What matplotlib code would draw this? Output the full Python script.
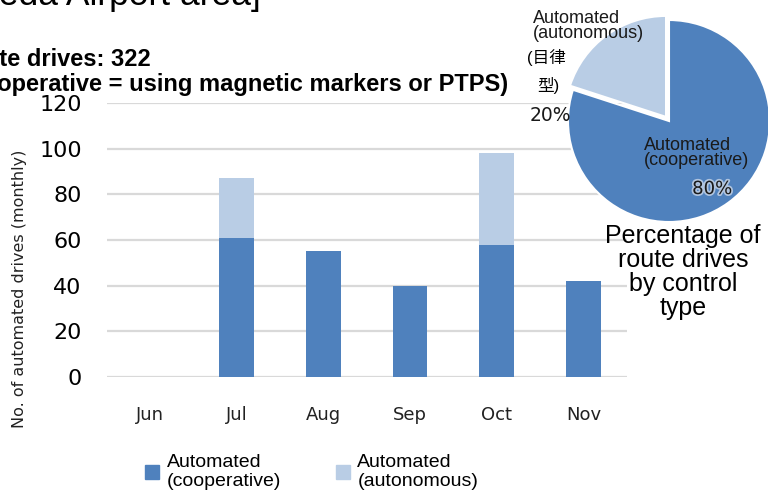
import matplotlib.pyplot as plt
import matplotlib.patheffects as pe
import numpy as np

months = ['Jun', 'Jul', 'Aug', 'Sep', 'Oct', 'Nov']
cooperative = [0, 61, 55, 40, 58, 42]
autonomous = [0, 26, 0, 0, 40, 0]
pie_labels = ['Automated\n(cooperative)', 'Automated\n(autonomous)']
pie_share = [80, 20]

c_coop = '#4f81bd'
c_auto = '#b9cde5'
sans = ['Liberation Sans', 'Noto Sans CJK JP', 'DejaVu Sans']
verd = ['DejaVu Sans']

fig = plt.figure(figsize=(7.68, 4.94), dpi=100)

# bar chart
ax = fig.add_axes([0.139, 0.237, 0.677, 0.5545])
x = np.arange(len(months))
ax.bar(x, cooperative, width=0.4, color=c_coop, zorder=3)
ax.bar(x, autonomous, width=0.4, bottom=cooperative, color=c_auto, zorder=3)
ax.set_xlim(-0.5, 5.5)
ax.set_ylim(0, 120)
ax.set_yticks(range(0, 121, 20))
ax.set_xticks(x)
ax.set_xticklabels(months, fontsize=13, family=verd, color='#222222')
for lab in ax.get_yticklabels():
    lab.set_family(verd)
ax.tick_params(axis='x', length=0, pad=21)
ax.tick_params(axis='y', length=0, pad=18, labelsize=16)
for s in ax.spines.values():
    s.set_visible(False)
ax.grid(axis='y', color='#d9d9d9', linewidth=1.6, zorder=0)
ax.set_ylabel('No. of automated drives (monthly)', fontsize=11.5, family=verd, color='#222222')
ax.yaxis.set_label_coords(-0.153, 0.32)

# titles (cropped at left edge like the source)
fig.text(0.339, 1 - 5 / 494, '[Haneda Airport area]', ha='right', va='baseline',
         fontsize=25.5, family=sans)
fig.text(0.196, 1 - 60 / 494, 'Total route drives: 322', ha='right', va='center',
         fontsize=17, fontweight='bold', family=sans)
fig.text(0.662, 1 - 84 / 494, '(Cooperative = using magnetic markers or PTPS)', ha='right',
         va='center', fontsize=17, fontweight='bold', family=sans)

# pie chart
pax = fig.add_axes([568 / 768, 1 - 222 / 494, 202 / 768, 202 / 494])
pax.pie(pie_share, colors=[c_coop, c_auto], startangle=90, counterclock=False,
        explode=[0, 0.05], wedgeprops=dict(edgecolor='white', linewidth=1.5))
pax.set_xlim(-1.0, 1.0)
pax.set_ylim(-1.0, 1.0)
pax.set_aspect('equal')
pax.axis('off')

glow = [pe.withStroke(linewidth=2.5, foreground='#c9d6e8', alpha=0.8)]
fig.text(644 / 768, 1 - 153 / 494, pie_labels[0], ha='left', va='center', fontsize=13,
         family=sans, color='#1a1a1a', linespacing=0.9)
fig.text(712 / 768, 1 - 189 / 494, f'{pie_share[0]}%', ha='center', va='center', fontsize=13,
         family=verd, color='#1a1a1a', path_effects=glow)
fig.text(533 / 768, 1 - 26 / 494, pie_labels[1], ha='left', va='center', fontsize=13,
         family=sans, color='#1a1a1a', linespacing=0.85)
fig.text(527 / 768, 1 - 57 / 494, '(目律', ha='left', va='center', fontsize=12, family=sans)
fig.text(537 / 768, 1 - 85 / 494, '型)', ha='left', va='center', fontsize=12, family=sans)
fig.text(550 / 768, 1 - 115 / 494, f'{pie_share[1]}%', ha='center', va='center', fontsize=13.5,
         family=verd, color='#1a1a1a')

fig.text(683 / 768, 1 - 272 / 494, 'Percentage of\nroute drives\nby control\ntype',
         ha='center', va='center', fontsize=18, family=sans, linespacing=1.0)

# legend
handles = [plt.Rectangle((0, 0), 1, 1, color=c_coop), plt.Rectangle((0, 0), 1, 1, color=c_auto)]
fig.legend(handles, pie_labels, loc='center left', bbox_to_anchor=(145 / 768, 1 - 472 / 494),
           ncol=2, frameon=False, prop={'family': sans, 'size': 14}, handlelength=0.72,
           handleheight=0.72, handletextpad=0.4, columnspacing=2.8, labelspacing=0,
           borderpad=0, borderaxespad=0)

fig.savefig('out.png', dpi=100)
